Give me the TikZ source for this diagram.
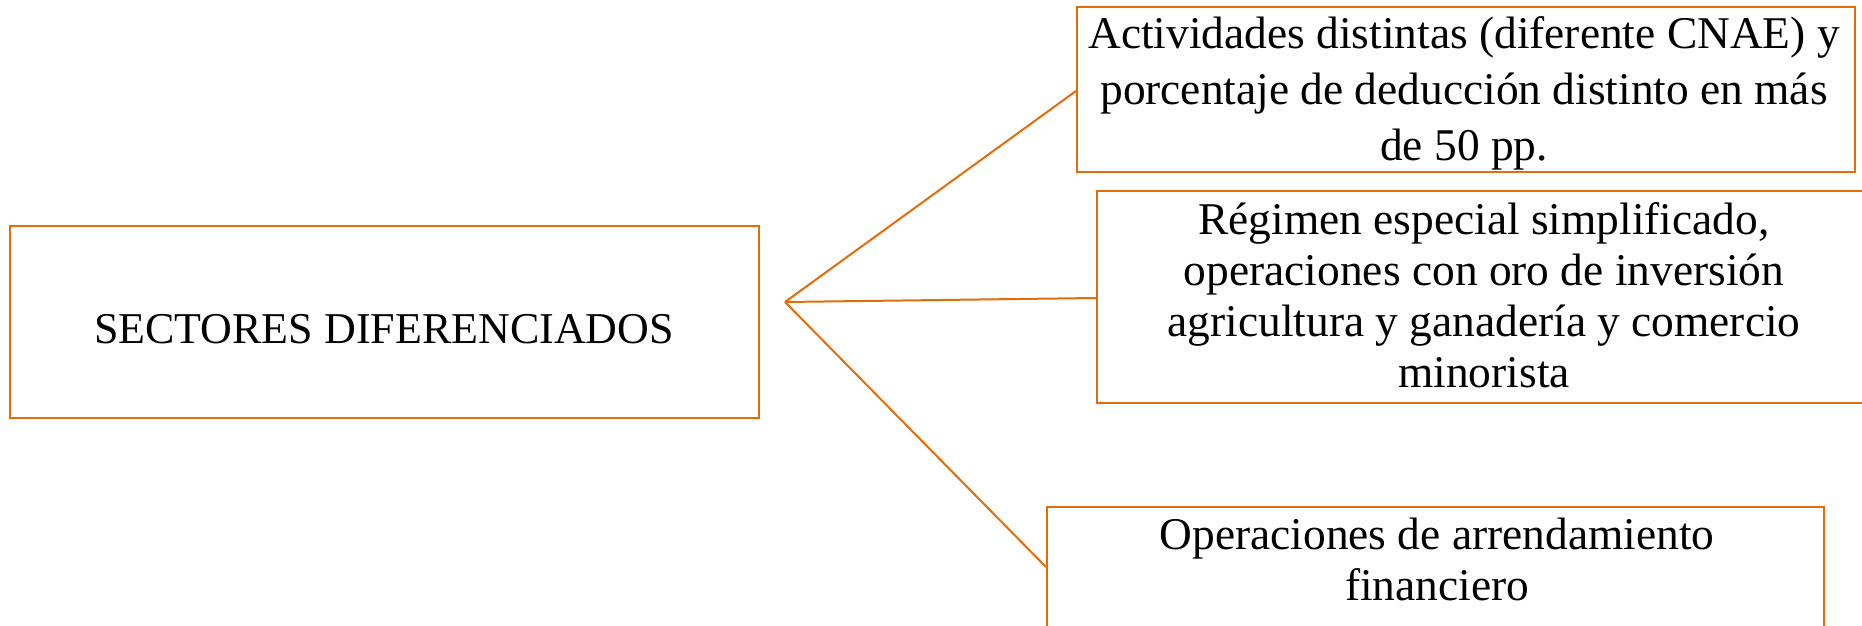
\documentclass[tikz,border=0pt]{standalone}
\usepackage{fontspec}
\setmainfont{Liberation Serif}
\definecolor{accent}{HTML}{E46C0A}
\begin{document}
\begin{tikzpicture}[x=0.5pt,y=-0.5pt,
  box/.style={draw=accent,line width=1pt,rectangle,inner sep=0pt,anchor=center},
  conn/.style={draw=accent,line width=1pt},
  txt/.style={inner sep=0pt,align=center,anchor=center}]
\clip (0,0) rectangle (1862,626);
\fill[white] (0,0) rectangle (1862,626);
% boxes
\node[box,minimum width=374.5pt,minimum height=96pt] (A) at (384.5,322) {};
\node[box,minimum width=389pt,minimum height=82.5pt] (B) at (1466,89.5) {};
\node[box,minimum width=386.5pt,minimum height=106pt] (C) at (1483.5,297) {};
\node[box,minimum width=388.5pt,minimum height=69pt] (D) at (1435.5,576) {};
% texts
\node[txt,font=\fontsize{22pt}{26pt}\selectfont] (tA) at (384,329) {SECTORES DIFERENCIADOS};
\node[txt,font=\fontsize{22.7pt}{28pt}\selectfont] (tB) at (1464,93.5) {Actividades distintas (diferente CNAE) y\\porcentaje de deducción distinto en más\\de 50 pp.};
\node[txt,font=\fontsize{22.7pt}{25.5pt}\selectfont] (tC) at (1484,295) {Régimen especial simplificado,\\operaciones con oro de inversión\\agricultura y ganadería y comercio\\minorista};
\node[txt,font=\fontsize{22.7pt}{25.5pt}\selectfont] (tD) at (1437,559) {Operaciones de arrendamiento\\financiero};
% connectors
\coordinate (F) at (785,302);
\draw[conn] (F) -- (B.west |- 0,91);
\draw[conn] (F) -- (C.west |- 0,298);
\draw[conn] (F) -- (D.west |- 0,567);
\end{tikzpicture}
\end{document}
